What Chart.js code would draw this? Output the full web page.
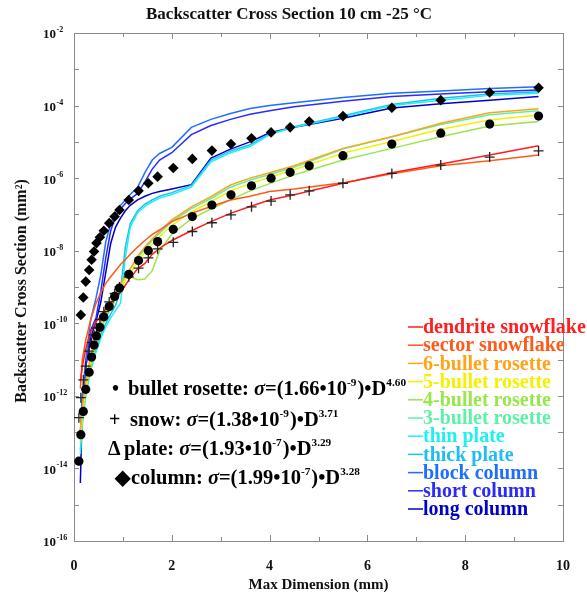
<!DOCTYPE html>
<html><head><meta charset="utf-8">
<script src="https://cdn.jsdelivr.net/npm/chart.js@4/dist/chart.umd.min.js"></script>
<style>html,body{margin:0;padding:0;background:#fff}#wrap{width:587px;height:600px;position:relative}</style>
</head><body><div id="wrap"><canvas id="c" width="587" height="600"></canvas></div>
<script>
// ---- data (x = max dimension in mm, y = backscatter cross section in mm^2) ----
const lineD = [0.13,0.17,0.24,0.34,0.45,0.55,0.65,0.75,0.85,0.95,1.05,1.15,1.3,1.45,1.6,1.75,2.0,2.4,2.8,3.2,3.6,4.0,4.5,5.5,6.5,7.5,8.5,9.5];

const dendriteSnowflake = [2.51e-12,6.31e-12,2.00e-11,5.62e-11,1.12e-10,1.58e-10,2.51e-10,3.55e-10,5.01e-10,7.08e-10,1.12e-9,1.78e-9,3.16e-9,4.47e-9,7.94e-9,1.17e-8,1.91e-8,3.55e-8,6.31e-8,1.07e-7,1.66e-7,2.51e-7,3.47e-7,7.24e-7,1.41e-6,2.45e-6,4.37e-6,7.76e-6];
const sectorSnowflake = [1.58e-12,1.0e-11,3.47e-11,1.23e-10,3.55e-10,7.08e-10,1.26e-9,1.91e-9,2.82e-9,4.17e-9,5.62e-9,7.94e-9,1.26e-8,1.91e-8,2.82e-8,3.72e-8,6.31e-8,1.07e-7,1.66e-7,2.51e-7,3.16e-7,4.27e-7,5.01e-7,7.41e-7,1.32e-6,2.19e-6,3.02e-6,4.37e-6];
const bullet6Rosette = [1.0e-13,5.01e-13,2.51e-12,1.26e-11,5.01e-11,1.12e-10,2.24e-10,3.98e-10,7.08e-10,1.26e-9,2.00e-9,3.16e-9,7.08e-9,1.26e-8,2.09e-8,3.39e-8,7.08e-8,1.62e-7,3.09e-7,6.46e-7,1.0e-6,1.41e-6,2.19e-6,6.61e-6,1.38e-5,3.24e-5,6.31e-5,8.13e-5];
const bullet5Rosette = [6.31e-14,3.16e-13,1.58e-12,7.94e-12,3.55e-11,8.91e-11,1.78e-10,3.16e-10,5.62e-10,1.0e-9,1.58e-9,2.51e-9,5.01e-9,8.91e-9,1.51e-8,2.40e-8,5.01e-8,1.17e-7,2.24e-7,4.47e-7,7.08e-7,1.05e-6,1.70e-6,4.90e-6,1.02e-5,2.24e-5,3.98e-5,5.50e-5];
const bullet4Rosette = [5.01e-14,2.51e-13,1.26e-12,6.31e-12,2.82e-11,7.08e-11,1.41e-10,2.51e-10,4.47e-10,7.94e-10,1.66e-9,1.91e-9,1.58e-9,1.66e-9,2.82e-9,1.0e-8,2.82e-8,7.59e-8,1.41e-7,2.51e-7,4.47e-7,7.08e-7,1.23e-6,3.16e-6,6.61e-6,1.38e-5,2.75e-5,3.63e-5];
const bullet3Rosette = [7.94e-14,3.98e-13,2.00e-12,1.0e-11,3.98e-11,1.0e-10,2.00e-10,3.55e-10,6.31e-10,1.12e-9,1.91e-9,3.16e-9,6.31e-9,1.12e-8,1.91e-8,3.02e-8,6.31e-8,1.45e-7,2.75e-7,5.62e-7,8.91e-7,1.26e-6,2.00e-6,6.31e-6,1.38e-5,3.02e-5,5.62e-5,7.24e-5];
const thinPlate = [2.51e-14,1.58e-13,1.0e-12,5.01e-12,1.58e-11,3.98e-11,7.94e-11,1.41e-10,2.24e-10,3.55e-10,6.31e-9,4.47e-8,1.12e-7,1.66e-7,2.24e-7,2.82e-7,3.55e-7,5.62e-7,2.82e-6,5.01e-6,7.41e-6,1.58e-5,2.51e-5,4.90e-5,1.0e-4,1.41e-4,1.91e-4,2.19e-4];
const thickPlate = [3.16e-14,2.00e-13,1.26e-12,6.31e-12,2.00e-11,5.01e-11,1.0e-10,1.78e-10,3.16e-10,7.94e-10,1.26e-8,5.62e-8,1.26e-7,1.91e-7,2.51e-7,3.16e-7,3.98e-7,6.31e-7,3.16e-6,5.62e-6,8.32e-6,1.66e-5,2.63e-5,5.25e-5,1.07e-4,1.58e-4,2.09e-4,2.40e-4];
const blockColumn = [1.0e-13,1.0e-12,1.0e-11,1.23e-10,5.01e-10,2.24e-9,1.78e-8,5.62e-8,1.12e-7,1.78e-7,2.51e-7,3.55e-7,5.62e-7,1.41e-6,3.16e-6,4.79e-6,7.08e-6,2.51e-5,4.17e-5,6.03e-5,8.32e-5,1.0e-4,1.20e-4,1.66e-4,2.19e-4,2.51e-4,2.95e-4,3.31e-4];
const shortColumn = [6.31e-14,6.31e-13,6.31e-12,6.31e-11,1.41e-10,7.94e-10,6.31e-9,3.55e-8,8.91e-8,1.41e-7,2.00e-7,2.63e-7,3.80e-7,7.94e-7,1.78e-6,3.16e-6,5.01e-6,1.58e-5,2.82e-5,4.17e-5,5.75e-5,7.24e-5,9.33e-5,1.32e-4,1.78e-4,2.09e-4,2.40e-4,2.69e-4];
const longColumn = [3.98e-15,5.01e-13,6.31e-12,3.98e-11,1.12e-10,3.98e-10,2.51e-9,1.58e-8,4.47e-8,7.94e-8,1.26e-7,1.78e-7,2.51e-7,3.16e-7,3.80e-7,4.27e-7,5.01e-7,6.61e-7,3.55e-6,6.31e-6,1.0e-5,1.78e-5,2.51e-5,4.47e-5,8.51e-5,1.12e-4,1.41e-4,1.78e-4];

const markerD = [0.1,0.14,0.19,0.24,0.31,0.36,0.41,0.46,0.53,0.61,0.72,0.83,0.93,1.12,1.32,1.52,1.71,2.03,2.42,2.82,3.21,3.63,4.03,4.42,4.81,5.5,6.5,7.5,8.5,9.5];
const bulletRosettePoints = [1.58e-14,8.51e-14,3.72e-13,1.51e-12,4.47e-12,1.17e-11,2.51e-11,4.47e-11,7.76e-11,1.51e-10,2.88e-10,5.50e-10,9.33e-10,2.24e-9,5.37e-9,1.0e-8,1.78e-8,3.89e-8,8.71e-8,1.82e-7,3.47e-7,6.17e-7,1.0e-6,1.45e-6,2.19e-6,4.17e-6,8.71e-6,1.74e-5,3.09e-5,5.13e-5];
const snowPoints = [2.51e-13,8.91e-13,2.75e-12,6.61e-12,1.70e-11,2.95e-11,4.79e-11,7.41e-11,1.26e-10,2.09e-10,3.89e-10,6.61e-10,1.0e-9,1.91e-9,3.31e-9,6.31e-9,1.12e-8,1.70e-8,3.39e-8,5.89e-8,9.77e-8,1.62e-7,2.34e-7,3.47e-7,4.47e-7,7.24e-7,1.35e-6,2.29e-6,3.80e-6,5.62e-6];
const columnPoints = [null,1.70e-10,5.13e-10,1.41e-9,2.95e-9,5.62e-9,9.55e-9,1.62e-8,2.34e-8,3.55e-8,5.75e-8,8.71e-8,1.32e-7,2.51e-7,4.47e-7,7.24e-7,1.10e-6,1.91e-6,3.39e-6,5.75e-6,8.71e-6,1.26e-5,1.82e-5,2.51e-5,3.63e-5,5.13e-5,8.71e-5,1.41e-4,2.29e-4,3.09e-4];

const seriesNames = ['dendrite snowflake','sector snowflake','6-bullet rosette','5-bullet rosette','4-bullet rosette','3-bullet rosette','thin plate','thick plate','block column','short column','long column'];
const seriesValues = [dendriteSnowflake,sectorSnowflake,bullet6Rosette,bullet5Rosette,bullet4Rosette,bullet3Rosette,thinPlate,thickPlate,blockColumn,shortColumn,longColumn];
const seriesColors = ['#ff1f1f','#ff5a1a','#ffa41a','#f2f200','#98e64c','#5ff0a8','#1ff0f0','#1fbef0','#1f6eff','#2a2aff','#0000c8'];

const xTicks = [0,2,4,6,8,10];
const yDecades = [-2,-4,-6,-8,-10,-12,-14,-16];
const fitLines = [
  {sym:'\u2022', name:'bullet rosette: ', coef:'1.66', exp:'-9', pow:'4.60'},
  {sym:'+', name:'snow: ', coef:'1.38', exp:'-9', pow:'3.71'},
  {sym:'\u0394', name:'plate: ', coef:'1.93', exp:'-7', pow:'3.29'},
  {sym:'\u25C6', name:'column: ', coef:'1.99', exp:'-7', pow:'3.28'}
];
const titleText = 'Backscatter Cross Section 10 cm -25 \u00B0C';
const xTitle = 'Max Dimension (mm)';
const yTitle = 'Backscatter Cross Section (mm\u00B2)';

const SERIF = '"Liberation Serif", "Times New Roman", serif';

const datasets = seriesValues.map((vals, i) => ({
  label: seriesNames[i],
  data: lineD.map((x, j) => ({x, y: vals[j]})),
  showLine: true, borderColor: seriesColors[i], backgroundColor: seriesColors[i],
  borderWidth: 1.5, pointRadius: 0, tension: 0, order: 5
}));
datasets.push({label:'bullet rosette', data: markerD.map((x,j)=>({x, y: bulletRosettePoints[j]})), showLine:false,
  pointStyle:'circle', pointRadius:4.6, backgroundColor:'#000', borderColor:'#000', borderWidth:0, order:1});
datasets.push({label:'snow', data: markerD.map((x,j)=>({x, y: snowPoints[j]})), showLine:false,
  pointStyle:'cross', pointRadius:5, backgroundColor:'#000', borderColor:'#222', borderWidth:1.3, order:1});
datasets.push({label:'column', data: markerD.map((x,j)=>({x, y: columnPoints[j]})), showLine:false,
  pointStyle:'rectRot', pointRadius:5.3, backgroundColor:'#000', borderColor:'#000', borderWidth:0, order:1});

function rich(ctx, parts, x, y, size){
  let cx = x;
  for (const p of parts){
    const fs = p.sup ? size*0.55 : size;
    ctx.font = (p.it ? 'italic ' : '') + 'bold ' + fs + 'px ' + SERIF;
    ctx.fillStyle = '#000'; ctx.textAlign = 'left'; ctx.textBaseline = 'alphabetic';
    ctx.fillText(p.t, cx, p.sup ? y - size*0.45 : y);
    cx += ctx.measureText(p.t).width + (p.gap || 0);
  }
  return cx;
}

const decor = {
  id: 'decor',
  beforeDatasetsDraw(chart){
    const {ctx, chartArea:a, scales:{x, y}} = chart;
    ctx.save();
    ctx.strokeStyle = '#8a8a8a'; ctx.lineWidth = 1;
    ctx.beginPath();
    for (let e = -16; e <= -2; e++){
      const py = Math.round(y.getPixelForValue(Math.pow(10, e))) + 0.5;
      const L = 5;
      ctx.moveTo(a.left, py); ctx.lineTo(a.left + L, py);
      ctx.moveTo(a.right, py); ctx.lineTo(a.right - L, py);
    }
    for (let d = 0; d <= 10; d += 1){
      const px = Math.round(x.getPixelForValue(d)) + 0.5;
      const L = d % 2 === 0 ? 6 : 4;
      ctx.moveTo(px, a.bottom); ctx.lineTo(px, a.bottom - L);
      ctx.moveTo(px, a.top); ctx.lineTo(px, a.top + L);
    }
    ctx.stroke();
    ctx.strokeRect(Math.round(a.left)+0.5, Math.round(a.top)+0.5, Math.round(a.right-a.left), Math.round(a.bottom-a.top));
    ctx.restore();
  },
  afterDraw(chart){
    const {ctx, chartArea:a, scales:{x, y}} = chart;
    ctx.save();
    ctx.font = 'bold 17px ' + SERIF; ctx.fillStyle = '#111'; ctx.textAlign = 'center'; ctx.textBaseline = 'middle';
    ctx.fillText(titleText, 289, 15);
    for (const e of yDecades){
      const py = y.getPixelForValue(Math.pow(10, e));
      ctx.font = 'bold 13px ' + SERIF; ctx.textAlign = 'right'; ctx.textBaseline = 'middle'; ctx.fillStyle = '#111';
      ctx.fillText('10', 56, py + 2);
      ctx.font = 'bold 8px ' + SERIF; ctx.textAlign = 'left';
      ctx.fillText(String(e), 56.5, py - 3);
    }
    ctx.translate(22, 291);
    ctx.rotate(-Math.PI/2);
    ctx.font = 'bold 16px ' + SERIF; ctx.textAlign = 'center'; ctx.textBaseline = 'middle'; ctx.fillStyle = '#111';
    ctx.fillText(yTitle, 0, 0);
    ctx.setTransform(1,0,0,1,0,0);
    seriesNames.forEach((n, i) => {
      const cy = 327 + i*18.2;
      ctx.strokeStyle = seriesColors[i]; ctx.lineWidth = 1.5;
      ctx.beginPath(); ctx.moveTo(408, cy); ctx.lineTo(423, cy); ctx.stroke();
      ctx.font = 'bold 20px ' + SERIF; ctx.fillStyle = seriesColors[i]; ctx.textAlign = 'left'; ctx.textBaseline = 'middle';
      ctx.fillText(n, 423, cy + 1);
    });
    const rowsY = [395, 426, 455, 484];
    const symX = [112, 109, 108, 115];
    const textX = [128, 130, 124, 131];
    fitLines.forEach((f, i) => {
      ctx.font = 'bold 20px ' + SERIF; ctx.fillStyle = '#000'; ctx.textAlign = 'left'; ctx.textBaseline = 'alphabetic';
      ctx.fillText(f.sym, symX[i], rowsY[i]);
      rich(ctx, [
        {t: f.name}, {t: '\u03C3', it: true}, {t: '=(' + f.coef + '\u202210'}, {t: f.exp, sup: true, gap: 1},
        {t: ')\u2022D'}, {t: f.pow, sup: true}
      ], textX[i], rowsY[i], 20.5);
    });
    ctx.restore();
  }
};

new Chart(document.getElementById('c'), {
  type: 'scatter',
  data: { datasets },
  options: {
    responsive: false, animation: false, devicePixelRatio: 1,
    layout: { padding: { left: 0, top: 33, right: 15, bottom: 0 } },
    plugins: { legend: { display: false }, tooltip: { enabled: false }, title: { display: false } },
    scales: {
      x: {
        type: 'linear', min: 0, max: 10,
        afterFit(s){ s.height = 59; },
        afterBuildTicks(s){ s.ticks = xTicks.map(v => ({value: v})); },
        grid: { display: false, drawTicks: false }, border: { display: false },
        ticks: { color: '#111', font: { family: SERIF, weight: 'bold', size: 14 }, padding: 17 },
        title: { display: true, text: xTitle, color: '#111', font: { family: SERIF, weight: 'bold', size: 15 }, padding: { top: 0, bottom: 6 } }
      },
      y: {
        type: 'logarithmic', min: 1e-16, max: 1e-2,
        afterFit(s){ s.width = 74; },
        grid: { display: false, drawTicks: false }, border: { display: false },
        ticks: { display: false }
      }
    }
  },
  plugins: [decor]
});
</script></body></html>
